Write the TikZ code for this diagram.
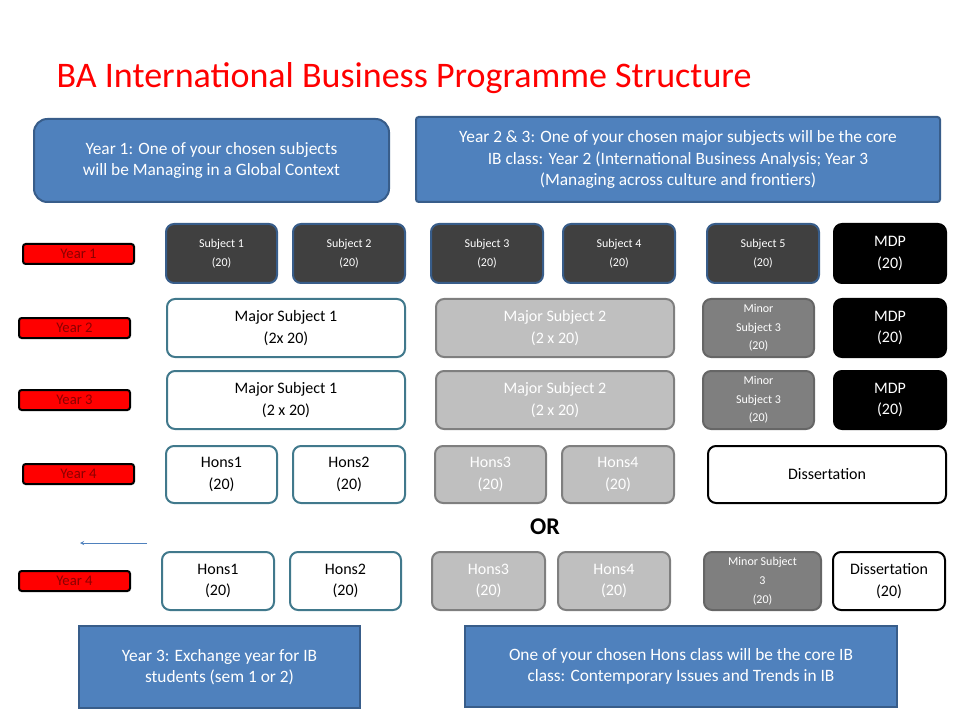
\documentclass[tikz,border=0pt]{standalone}
\usepackage{fontspec}
\setmainfont{Carlito}
\usetikzlibrary{positioning}
\definecolor{ibblue}{HTML}{4F81BD}
\definecolor{ibedge}{HTML}{385D8A}
\definecolor{boxedge}{HTML}{41798C}
\definecolor{darkbox}{HTML}{404040}
\definecolor{lightbox}{HTML}{BFBFBF}
\definecolor{midbox}{HTML}{7F7F7F}
\definecolor{yeartext}{HTML}{8B0000}
\newcommand{\pbox}[6]{% style, name, x1, y1, x2, y2
  \node[#1, minimum width={(#5-#3)*0.75pt}, minimum height={(#6-#4)*0.75pt}]
    (#2) at ({(#3+#5)/2}, {(#4+#6)/2})}
\begin{document}
\begin{tikzpicture}[%
    x=0.75pt, y=-0.75pt,
    >=stealth,
    callout/.style={draw=ibedge, fill=ibblue, text=white, line width=1.5pt,
      font=\fontsize{13}{16}\selectfont, align=center, inner sep=2pt},
    yearbox/.style={draw=black, fill=red, text=yeartext, line width=1.5pt,
      rounded corners=2pt, font=\fontsize{11}{13}\selectfont, inner sep=0pt},
    unit/.style={draw=boxedge, line width=1.5pt, rounded corners=6pt,
      align=center, inner sep=1pt, font=\fontsize{12}{16}\selectfont},
    subj/.style={unit, fill=darkbox, draw=ibedge, text=white,
      font=\fontsize{9}{14}\selectfont},
    mdp/.style={unit, fill=black, draw=black, text=white},
    major/.style={unit, fill=white},
    major2/.style={unit, fill=lightbox, draw=midbox, text=white},
    minor/.style={unit, fill=midbox, draw=midbox!80!black, text=white,
      font=\fontsize{9}{14}\selectfont},
    diss/.style={unit, fill=white, draw=black}
  ]
    \useasboundingbox (0,0) rectangle (960,720);
    \node[text=red, font=\fontsize{27}{32}\selectfont, anchor=west] (title) at (52,78)
      {BA International Business Programme Structure};

    % callouts
    \pbox{callout, rounded corners=10pt}{c1}{34}{119}{389}{202}
      {Year 1: One of your chosen subjects\\will be Managing in a Global Context};
    \pbox{callout, rounded corners=2pt}{c2}{416}{117}{940}{202}
      {Year 2 \& 3: One of your chosen major subjects will be the core\\IB class: Year 2 (International Business Analysis; Year 3\\(Managing across culture and frontiers)};

    % year labels
    \pbox{yearbox}{y1}{23}{244}{134}{264}{Year 1};
    \pbox{yearbox}{y2}{19}{318}{130}{338}{Year 2};
    \pbox{yearbox}{y3}{19}{390}{130}{410}{Year 3};
    \pbox{yearbox}{y4}{23}{464}{134}{484}{Year 4};
    \pbox{yearbox}{y4b}{19}{571}{130}{591}{Year 4};

    % year 1
    \pbox{subj}{s1}{166}{224}{277}{283}{Subject 1\\(20)};
    \pbox{subj}{s2}{293}{224}{405}{283}{Subject 2\\(20)};
    \pbox{subj}{s3}{431}{224}{543}{283}{Subject 3\\(20)};
    \pbox{subj}{s4}{563}{224}{675}{283}{Subject 4\\(20)};
    \pbox{subj}{s5}{707}{224}{819}{283}{Subject 5\\(20)};
    \pbox{mdp}{m1}{834}{224}{946}{283}{MDP\\(20)};

    % year 2
    \pbox{major}{ma2}{167}{299}{405}{357}{Major Subject 1\\(2x 20)};
    \pbox{major2}{mb2}{436}{299}{674}{357}{Major Subject 2\\(2 x 20)};
    \pbox{minor}{mi2}{703}{299}{814}{357}{Minor\\Subject 3\\(20)};
    \pbox{mdp}{m2}{834}{299}{946}{357}{MDP\\(20)};

    % year 3
    \pbox{major}{ma3}{167}{371}{405}{429}{Major Subject 1\\(2 x 20)};
    \pbox{major2}{mb3}{436}{371}{674}{429}{Major Subject 2\\(2 x 20)};
    \pbox{minor}{mi3}{703}{371}{814}{429}{Minor\\Subject 3\\(20)};
    \pbox{mdp}{m3}{834}{371}{946}{429}{MDP\\(20)};

    % year 4
    \pbox{major}{h1}{166}{446}{277}{503}{Hons1\\(20)};
    \pbox{major}{h2}{293}{446}{405}{503}{Hons2\\(20)};
    \pbox{major2}{h3}{435}{446}{546}{503}{Hons3\\(20)};
    \pbox{major2}{h4}{562}{446}{674}{503}{Hons4\\(20)};
    \pbox{diss}{d1}{708}{446}{946}{503}{Dissertation};

    \node[font=\bfseries\fontsize{18}{20}\selectfont] (or) at (545,527) {OR};
    \coordinate (arrA) at (147,543);
    \coordinate (arrB) at (80,543);
    \draw[->, ibblue, thin] (arrA) -- (arrB);

    % year 4 alternative
    \pbox{major}{hb1}{162}{552}{274}{610}{Hons1\\(20)};
    \pbox{major}{hb2}{290}{552}{401}{610}{Hons2\\(20)};
    \pbox{major2}{hb3}{432}{552}{545}{610}{Hons3\\(20)};
    \pbox{major2}{hb4}{558}{552}{670}{610}{Hons4\\(20)};
    \pbox{minor}{mib}{704}{552}{821}{610}{Minor Subject\\3\\(20)};
    \pbox{diss}{db}{833}{552}{945}{610}{Dissertation\\(20)};

    % bottom callouts
    \pbox{callout}{c3}{79}{626}{360}{708}
      {Year 3: Exchange year for IB\\students (sem 1 or 2)};
    \pbox{callout}{c4}{465}{626}{897}{707}
      {One of your chosen Hons class will be the core IB\\class: Contemporary Issues and Trends in IB};
  \end{tikzpicture}
\end{document}
